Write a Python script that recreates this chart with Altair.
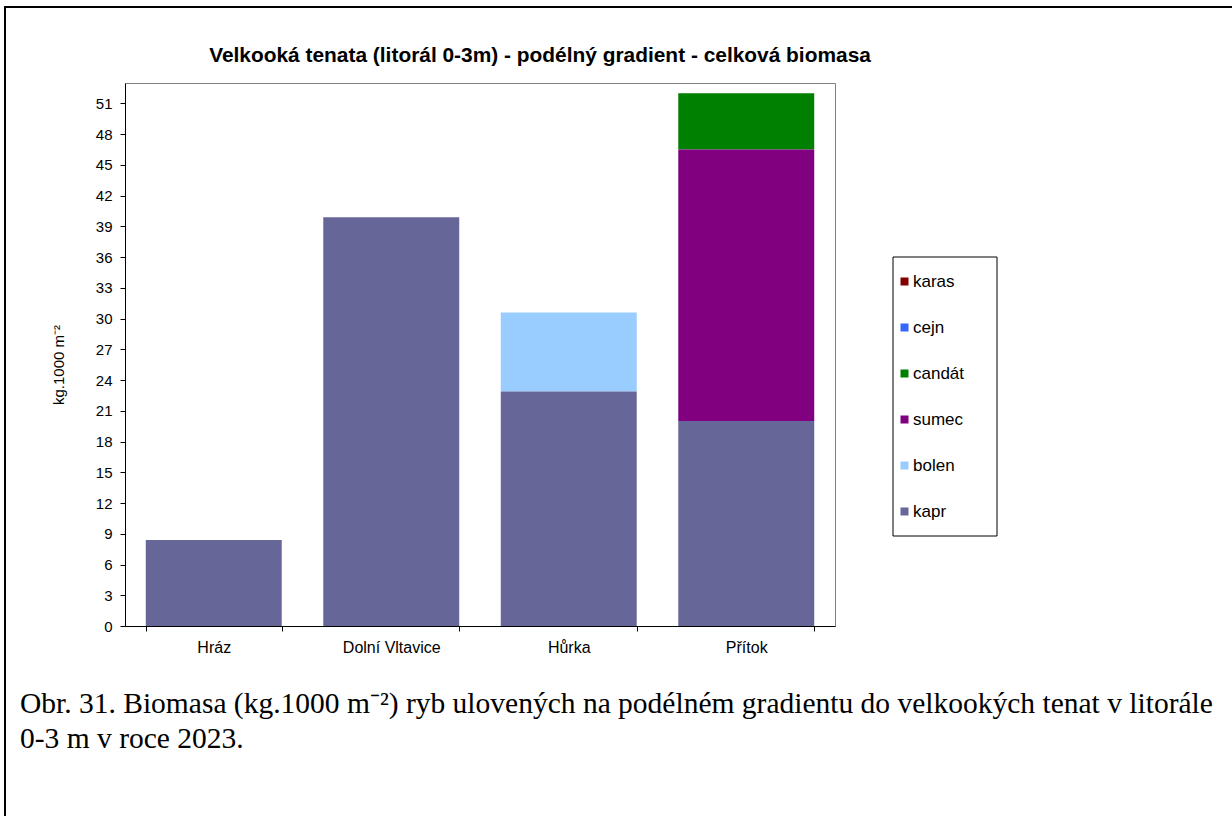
import altair as alt
import pandas as pd

# Sampling sites along the reservoir (dam -> inflow)
sites = ["Hráz", "Dolní Vltavice", "Hůrka", "Přítok"]

# Species, in legend order (top to bottom); the stack is built the other way round
species = ["karas", "cejn", "candát", "sumec", "bolen", "kapr"]
species_colors = ["#800000", "#3366FF", "#008000", "#800080", "#99CCFF", "#666699"]

# Biomass per site, kg per 1000 m2
karas = [0.0, 0.0, 0.0, 0.0]
cejn = [0.0, 0.0, 0.0, 0.0]
candat = [0.0, 0.0, 0.0, 5.5]
sumec = [0.0, 0.0, 0.0, 26.5]
bolen = [0.0, 0.0, 7.7, 0.0]
kapr = [8.4, 39.9, 22.9, 20.0]

y_ticks = list(range(0, 52, 3))

title_text = "Velkooká tenata (litorál 0-3m) - podélný gradient - celková biomasa"
caption_lines = [
    "Obr. 31. Biomasa (kg.1000 m⁻²) ryb ulovených na podélném gradientu do velkookých tenat v litorále",
    "0-3 m v roce 2023.",
]

series = dict(zip(species, [karas, cejn, candat, sumec, bolen, kapr]))
rows = []
for rank, sp in enumerate(species):
    for site, val in zip(sites, series[sp]):
        if val > 0:
            rows.append({"lokalita": site, "druh": sp, "biomasa": val,
                         "poradi": len(species) - 1 - rank})
df = pd.DataFrame(rows)

W, H = 710, 543
SANS = "Liberation Sans, Arial"
SERIF = "Liberation Serif, Times New Roman"

one_row = pd.DataFrame({"k": [0]})

# page frame and legend box
frame = alt.Chart(one_row).mark_rect(fillOpacity=0, stroke="black", strokeWidth=2).encode(
    x=alt.value(-120), x2=alt.value(1120), y=alt.value(-76), y2=alt.value(760)
)
legend_box = alt.Chart(one_row).mark_rect(fillOpacity=0, stroke="black", strokeWidth=1).encode(
    x=alt.value(768), x2=alt.value(872), y=alt.value(174), y2=alt.value(453)
)

bars = alt.Chart(df).mark_bar().encode(
    x=alt.X(
        "lokalita:N",
        sort=sites,
        scale=alt.Scale(paddingInner=0.234, paddingOuter=0.117),
        axis=alt.Axis(
            title=None, labelAngle=0, tickBand="extent", tickSize=5,
            labelPadding=8, labelFontSize=16,
        ),
    ),
    y=alt.Y(
        "biomasa:Q",
        stack="zero",
        scale=alt.Scale(domain=[0, 53], nice=False),
        axis=alt.Axis(
            values=y_ticks, grid=False, tickSize=5, labelPadding=8, labelFontSize=15,
            title="kg.1000 m⁻²", titleFontSize=15, titleFontWeight="normal",
            titleX=-67, titleY=H / 2 + 10, titleBaseline="middle",
        ),
    ),
    color=alt.Color(
        "druh:N",
        scale=alt.Scale(domain=species, range=species_colors),
        legend=alt.Legend(
            orient="none", legendX=771, legendY=190, title=None,
            symbolType="square", symbolSize=64, symbolStrokeWidth=0,
            labelFontSize=17, labelFont=SANS, labelOffset=0,
            rowPadding=28, padding=0,
        ),
    ),
    order=alt.Order("poradi:Q"),
)

title = alt.Chart(one_row).mark_text(
    font=SANS, fontSize=20.9, fontWeight="bold", align="center", baseline="alphabetic"
).encode(x=alt.value(415), y=alt.value(-21), text=alt.value(title_text))

caption = alt.Chart(one_row).mark_text(
    font=SERIF, fontSize=29.5, align="left", baseline="alphabetic", lineHeight=35
).encode(x=alt.value(-105), y=alt.value(630), text=alt.value(caption_lines))

chart = alt.layer(frame, legend_box, bars, title, caption).properties(
    width=W, height=H,
    autosize=alt.AutoSizeParams(type="none"),
    padding={"left": 125, "top": 83, "right": 397, "bottom": 190},
    background="white",
).configure_view(
    stroke="#808080", strokeWidth=1
).configure_axis(
    domainColor="black", tickColor="black", labelColor="black", titleColor="black",
    labelFont=SANS, titleFont=SANS, domainWidth=1,
)

chart.save("out.html", embed_options={"renderer": "svg", "actions": False})
